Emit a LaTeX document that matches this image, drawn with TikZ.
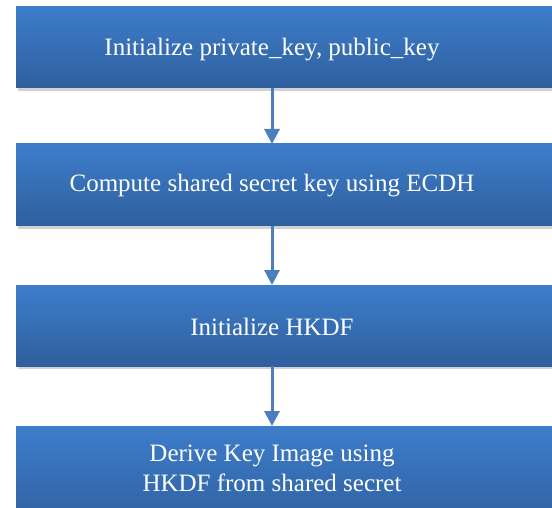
\documentclass[tikz,border=0pt]{standalone}
\usepackage{fontspec}
\setmainfont{Liberation Serif}
\usetikzlibrary{shadows,arrows.meta}
\definecolor{boxtop}{HTML}{3D7DCA}
\definecolor{boxbot}{HTML}{2F5F9E}
\definecolor{arrowc}{HTML}{4A7EBE}
\tikzset{
  box/.style={draw=none, rectangle, top color=boxtop, bottom color=boxbot,
    drop shadow={shadow xshift=2pt, shadow yshift=-3pt, opacity=0.3, fill=black!60}},
  lbl/.style={text=white, font=\fontsize{25}{30}\selectfont, align=center},
  flow/.style={draw=arrowc, line width=3pt, -{Triangle[width=15pt,length=15pt]}}
}
\begin{document}
\begin{tikzpicture}[x=1pt,y=-1pt]
\useasboundingbox (0,0) rectangle (552,508);
\clip (0,0) rectangle (552,508);
\path[box] (16,7) rectangle (570,88) node[midway, inner sep=0, outer sep=0] (b1) {};
\path[box] (16,144) rectangle (570,226) node[midway, inner sep=0] (b2) {};
\path[box] (16,285) rectangle (570,366) node[midway, inner sep=0] (b3) {};
\path[box] (16,426) rectangle (570,530) node[midway, inner sep=0] (b4) {};
\coordinate (b1s) at (272,88);
\coordinate (b2n) at (272,144);
\coordinate (b2s) at (272,226);
\coordinate (b3n) at (272,285);
\coordinate (b3s) at (272,366);
\coordinate (b4n) at (272,426);
\node[lbl] (t1) at (272,50) {Initialize private\_key, public\_key};
\node[lbl] (t2) at (272,186) {Compute shared secret key using ECDH};
\node[lbl] (t3) at (272,327) {Initialize HKDF};
\node[lbl] (t4) at (272,468) {Derive Key Image using\\HKDF from shared secret};
\draw[flow] (b1s) -- (b2n);
\draw[flow] (b2s) -- (b3n);
\draw[flow] (b3s) -- (b4n);
\end{tikzpicture}
\end{document}
